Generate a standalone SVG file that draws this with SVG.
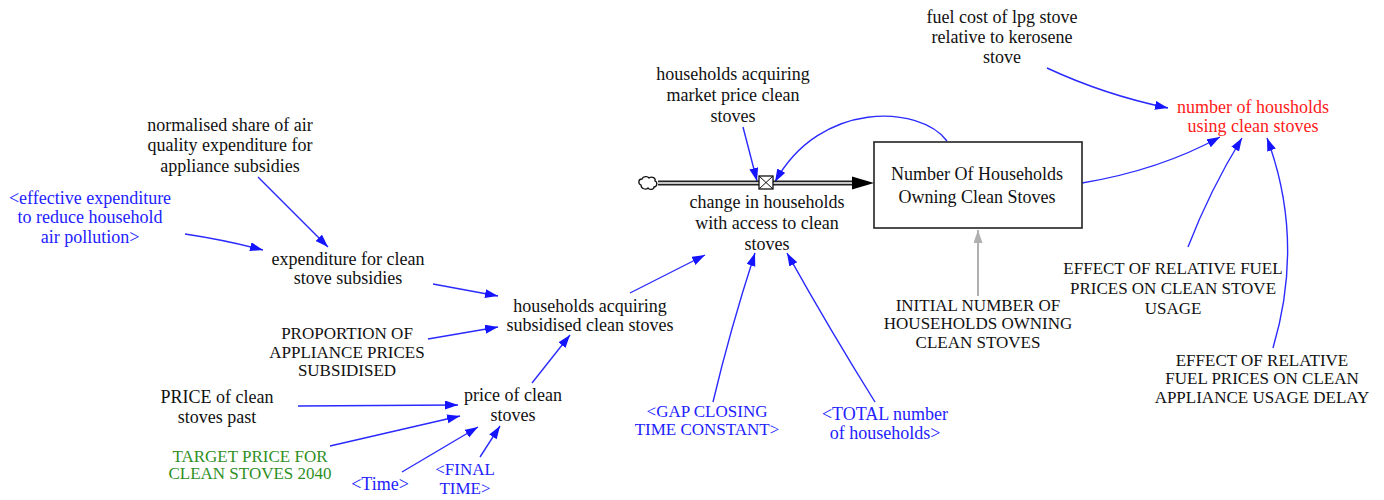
<svg xmlns="http://www.w3.org/2000/svg" width="1384" height="500" viewBox="0 0 1384 500">
<style>
text{font-family:"Liberation Serif","Times New Roman",serif;font-size:18px;text-anchor:middle;fill:#111}
.cap{font-size:17px}
.blue{fill:#2222ff}
.red{fill:#ff1a1a}
.green{fill:#2f8f1f}
.link{fill:none;stroke:#2a2aff;stroke-width:1.4;marker-end:url(#ab)}
.gray{fill:none;stroke:#b0b0b0;stroke-width:2;marker-end:url(#ag)}
</style>
<defs>
<marker id="ab" markerUnits="userSpaceOnUse" markerWidth="14" markerHeight="10" refX="13" refY="4.5" orient="auto"><path d="M0,0 L13,4.5 L0,9 z" fill="#1414ff"/></marker>
<marker id="ag" markerUnits="userSpaceOnUse" markerWidth="14" markerHeight="10" refX="13" refY="4.5" orient="auto"><path d="M0,0 L13,4.5 L0,9 z" fill="#b0b0b0"/></marker>
<marker id="ak" markerUnits="userSpaceOnUse" markerWidth="20" markerHeight="14" refX="19" refY="6.5" orient="auto"><path d="M0,0 L19,6.5 L0,13 z" fill="#000"/></marker>
</defs>

<g id="connectors">
<path class="link" d="M1047,68 Q1105,95 1168,108"/>
<path class="link" d="M1082,183 Q1160,170 1220,137"/>
<path class="link" d="M1188,247 Q1210,190 1242,138"/>
<path class="link" d="M1273,348 Q1305,240 1267,138"/>
<path class="link" d="M743,127 L757,181"/>
<path class="link" d="M947,141 C920,105 820,100 775,182"/>
<path class="link" d="M258,177 L328,247"/>
<path class="link" d="M185,234 Q225,240 263,250"/>
<path class="link" d="M433,284 L498,296"/>
<path class="link" d="M428,339 L498,327"/>
<path class="link" d="M532,383 L570,335"/>
<path class="link" d="M630,293 L705,255"/>
<path class="link" d="M713,402 Q730,330 755,253"/>
<path class="link" d="M875,402 Q830,330 787,253"/>
<path class="link" d="M298,406 L458,405"/>
<path class="link" d="M330,446 L460,416"/>
<path class="link" d="M402,472 L478,427"/>
<path class="link" d="M480,457 L500,426"/>
<path class="gray" d="M978,296 L978,230"/>
</g>

<g id="flow">
<path d="M658,183 L858,183" stroke="#222" stroke-width="5" fill="none"/>
<path d="M658,183 L860,183" stroke="#fff" stroke-width="1.6" fill="none"/>
<path d="M852,176.5 L874,183 L852,189.5 z" fill="#000"/>
<path d="M641,185 c-3,-1 -3,-6 1,-6 c1,-3 6,-3 7,-1 c3,-2 7,0 6,3 c3,1 2,6 -1,6 c0,3 -5,3 -6,1 c-2,2 -7,1 -7,-3 z" fill="#fff" stroke="#111" stroke-width="1.3"/>
</g>

<g id="valve">
<rect x="759" y="176" width="14" height="13" fill="#fff" stroke="#111" stroke-width="1.3"/>
<path d="M759,176 L773,189 M773,176 L759,189" stroke="#111" stroke-width="1"/>
</g>

<g id="stock">
<rect x="874" y="142" width="208" height="86" fill="#fff" stroke="#222" stroke-width="1.6"/>
<text x="977" y="180">Number Of Households</text>
<text x="977" y="203">Owning Clean Stoves</text>
</g>

<g id="fuel-cost"><text x="1002" y="23">fuel cost of lpg stove</text><text x="1002" y="43">relative to kerosene</text><text x="1002" y="63">stove</text></g>
<g id="number-using"><text class="red" x="1253" y="113">number of housholds</text><text class="red" x="1253" y="132">using clean stoves</text></g>
<g id="hh-market"><text x="733" y="80">households acquiring</text><text x="733" y="101">market price clean</text><text x="733" y="122">stoves</text></g>
<g id="change"><text x="767" y="208">change in households</text><text x="767" y="229">with access to clean</text><text x="767" y="250">stoves</text></g>
<g id="normalised"><text x="230" y="131">normalised share of air</text><text x="230" y="151">quality expenditure for</text><text x="230" y="172">appliance subsidies</text></g>
<g id="effective"><text class="blue" x="90" y="204">&lt;effective expenditure</text><text class="blue" x="90" y="223">to reduce household</text><text class="blue" x="90" y="243">air pollution&gt;</text></g>
<g id="expenditure"><text x="348" y="265">expenditure for clean</text><text x="348" y="284">stove subsidies</text></g>
<g id="hh-subsidised"><text x="590" y="312">households acquiring</text><text x="590" y="331">subsidised clean stoves</text></g>
<g id="proportion"><text class="cap" x="347" y="339">PROPORTION OF</text><text class="cap" x="347" y="358">APPLIANCE PRICES</text><text class="cap" x="347" y="376">SUBSIDISED</text></g>
<g id="price-past"><text x="217" y="403">PRICE of clean</text><text x="217" y="423">stoves past</text></g>
<g id="price"><text x="513" y="401">price of clean</text><text x="513" y="421">stoves</text></g>
<g id="target"><text class="cap green" x="250" y="462">TARGET PRICE FOR</text><text class="cap green" x="250" y="479">CLEAN STOVES 2040</text></g>
<g id="time"><text class="blue" x="380" y="490">&lt;Time&gt;</text></g>
<g id="final-time"><text class="cap blue" x="465" y="475">&lt;FINAL</text><text class="cap blue" x="465" y="494">TIME&gt;</text></g>
<g id="gap"><text class="cap blue" x="707" y="417">&lt;GAP CLOSING</text><text class="cap blue" x="707" y="435">TIME CONSTANT&gt;</text></g>
<g id="total"><text class="blue" x="885" y="420">&lt;TOTAL number</text><text class="blue" x="885" y="439">of households&gt;</text></g>
<g id="initial"><text class="cap" x="978" y="311">INITIAL NUMBER OF</text><text class="cap" x="978" y="329">HOUSEHOLDS OWNING</text><text class="cap" x="978" y="348">CLEAN STOVES</text></g>
<g id="effect-usage"><text class="cap" x="1173" y="274">EFFECT OF RELATIVE FUEL</text><text class="cap" x="1173" y="294">PRICES ON CLEAN STOVE</text><text class="cap" x="1173" y="314">USAGE</text></g>
<g id="effect-delay"><text class="cap" x="1262" y="366">EFFECT OF RELATIVE</text><text class="cap" x="1262" y="384">FUEL PRICES ON CLEAN</text><text class="cap" x="1262" y="403">APPLIANCE USAGE DELAY</text></g>
</svg>
